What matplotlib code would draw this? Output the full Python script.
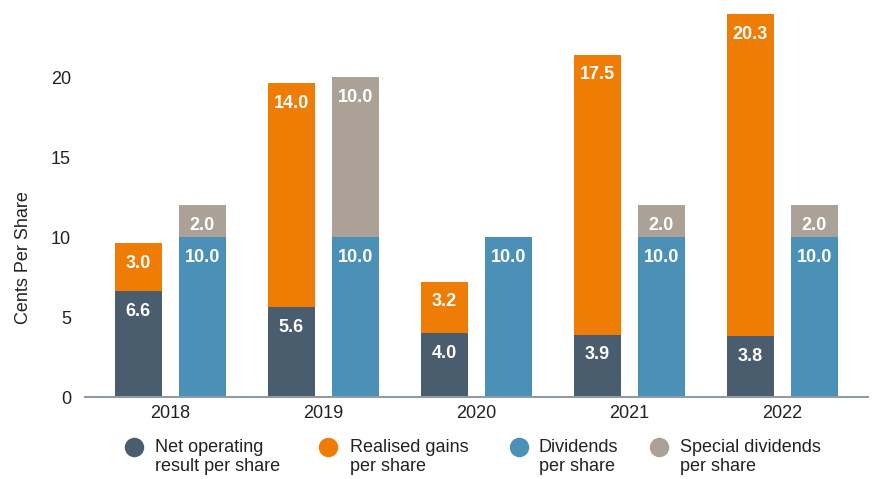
import matplotlib
matplotlib.use("Agg")
import matplotlib.pyplot as plt
from matplotlib.lines import Line2D
import numpy as np

plt.rcParams['font.family'] = ['Liberation Sans', 'DejaVu Sans']

years = ['2018', '2019', '2020', '2021', '2022']
net_operating = [6.6, 5.6, 4.0, 3.9, 3.8]
realised_gains = [3.0, 14.0, 3.2, 17.5, 20.3]
dividends = [10.0, 10.0, 10.0, 10.0, 10.0]
special_dividends = [2.0, 10.0, 0.0, 2.0, 2.0]

legend_labels = ['Net operating\nresult per share', 'Realised gains\nper share',
                 'Dividends\nper share', 'Special dividends\nper share']
colors = ['#4a5d6f', '#ef7c04', '#4b90b6', '#aba197']

fig = plt.figure(figsize=(8.74, 4.79), dpi=100)
ax = fig.add_axes([85 / 874, 82 / 479, 783 / 874, 383 / 479])

x = np.arange(len(years))
w = 0.307
off = 0.209
ytop = 383 / 16

b1 = ax.bar(x - off, net_operating, w, color=colors[0])
b2 = ax.bar(x - off, realised_gains, w, bottom=net_operating, color=colors[1])
b3 = ax.bar(x + off, dividends, w, color=colors[2])
b4 = ax.bar(x + off, special_dividends, w, bottom=dividends, color=colors[3])

def label(bars, vals, bottoms):
    for bar, v, b in zip(bars, vals, bottoms):
        if v <= 0:
            continue
        # bars taller than the axes get their label under the clipped top
        top = min(b + v, ytop)
        ax.annotate(f'{v:.1f}', (bar.get_x() + bar.get_width() / 2, top),
                    xytext=(0, -14.5), textcoords='offset points',
                    ha='center', va='center', color='white',
                    fontsize=13, fontweight='bold', annotation_clip=False)

label(b1, net_operating, [0] * 5)
label(b2, realised_gains, net_operating)
label(b3, dividends, [0] * 5)
label(b4, special_dividends, dividends)

ax.set_xlim(-0.556, 4.56)
ax.set_ylim(0, ytop)
ax.set_yticks([0, 5, 10, 15, 20])
ax.set_xticks(x)
ax.set_xticklabels(years)
ax.tick_params(axis='both', length=0, labelsize=13, colors='#222222')
ax.tick_params(axis='y', pad=10)
ax.tick_params(axis='x', pad=6)
for s in ['top', 'right', 'left']:
    ax.spines[s].set_visible(False)
ax.spines['bottom'].set_color('#8f9ba6')
ax.spines['bottom'].set_linewidth(1.5)

fig.text(24 / 874, 1 - 258 / 479, 'Cents Per Share', rotation=90,
         ha='center', va='center', fontsize=13, color='#222222')

marker_x = [134, 328, 519, 659]
text_x = [155, 350, 539, 680]
for mx, tx, lab, c in zip(marker_x, text_x, legend_labels, colors):
    fig.add_artist(Line2D([mx / 874], [1 - 447 / 479], marker='o', markersize=13,
                          color=c, linestyle='none', transform=fig.transFigure))
    fig.text(tx / 874, 1 - 439 / 479, lab, ha='left', va='top', fontsize=13,
             color='#222222', linespacing=1.15)

fig.savefig('out.png', dpi=100)
